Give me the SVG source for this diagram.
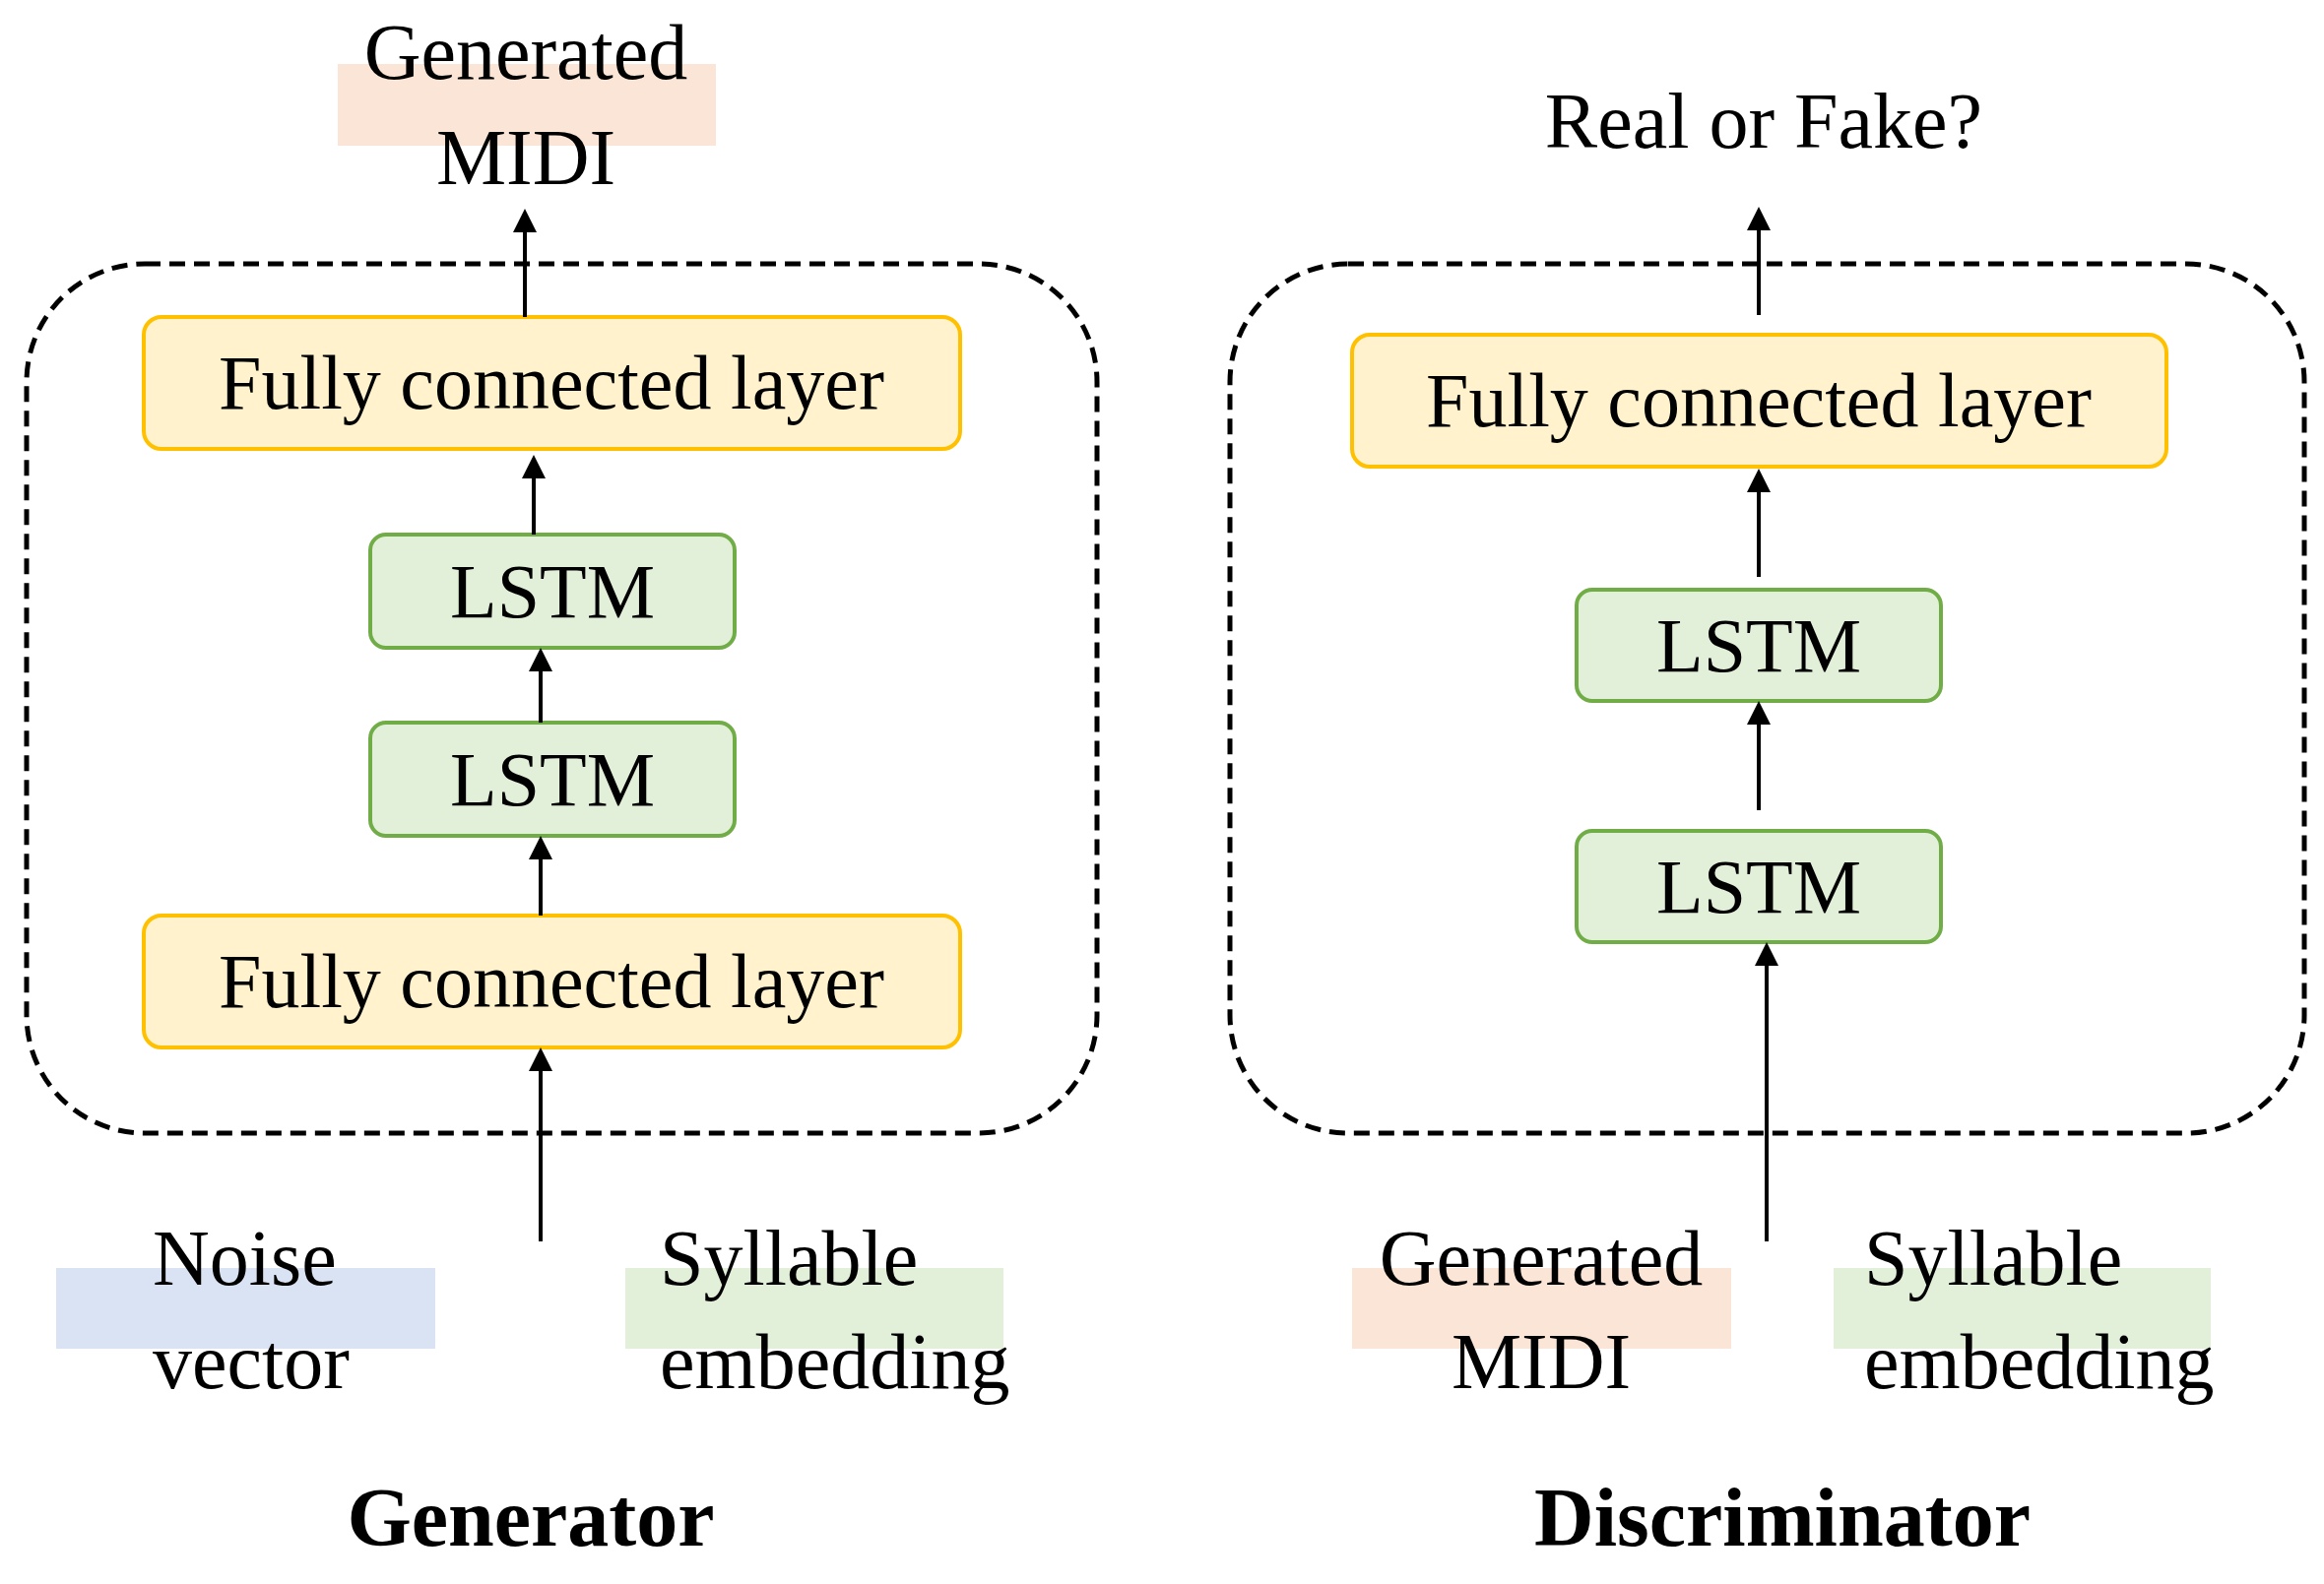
<svg xmlns="http://www.w3.org/2000/svg" width="2360" height="1609" viewBox="0 0 2360 1609">
<style>
text{font-family:"Liberation Serif","Times New Roman",serif;fill:#000}
.fc{fill:#fff2cc;stroke:#ffc000;stroke-width:4}
.ls{fill:#e2f0d9;stroke:#70ad47;stroke-width:4}
.dash{fill:none;stroke:#000;stroke-width:5;stroke-dasharray:16 9}
.ar{stroke:#000;stroke-width:4;fill:none;marker-end:url(#ah)}
.t{font-size:78px;text-anchor:middle}
.l{font-size:80px}
</style>
<defs><marker id="ah" markerWidth="6" markerHeight="6" refX="5" refY="3" orient="auto"><path d="M0,0L6,3L0,6z" fill="#000"/></marker></defs>
<rect fill="#fff" width="2360" height="1609"/>
<g id="genbox"><rect class="dash" x="27" y="268" width="1087" height="883" rx="120"/></g>
<g id="discbox"><rect class="dash" x="1249" y="268" width="1091" height="883" rx="120"/></g>
<g id="gfc2"><rect class="fc" x="146" y="322" width="829" height="134" rx="18"/><text class="t" x="560" y="415">Fully connected layer</text></g>
<g id="glstm1"><rect class="ls" x="376" y="543" width="370" height="115" rx="16"/><text class="t" x="561" y="627">LSTM</text></g>
<g id="glstm2"><rect class="ls" x="376" y="734" width="370" height="115" rx="16"/><text class="t" x="561" y="818">LSTM</text></g>
<g id="gfc1"><rect class="fc" x="146" y="930" width="829" height="134" rx="18"/><text class="t" x="560" y="1023">Fully connected layer</text></g>
<g id="dfc"><rect class="fc" x="1373" y="340" width="827" height="134" rx="18"/><text class="t" x="1786" y="433">Fully connected layer</text></g>
<g id="dlstm1"><rect class="ls" x="1601" y="599" width="370" height="113" rx="16"/><text class="t" x="1786" y="682">LSTM</text></g>
<g id="dlstm2"><rect class="ls" x="1601" y="844" width="370" height="113" rx="16"/><text class="t" x="1786" y="927">LSTM</text></g>
<g id="gout"><rect fill="#fbe5d6" x="343" y="65" width="384" height="83"/><text class="l" x="534" y="80" text-anchor="middle">Generated</text><text class="l" x="534" y="187" text-anchor="middle">MIDI</text></g>
<g id="dout"><text class="l" x="1791" y="150" text-anchor="middle">Real or Fake?</text></g>
<g id="noise"><rect fill="#dae3f3" x="57" y="1288" width="385" height="82"/><text class="l" x="155" y="1305">Noise</text><text class="l" x="155" y="1410">vector</text></g>
<g id="gsyl"><rect fill="#e2f0d9" x="635" y="1288" width="384" height="82"/><text class="l" x="670" y="1305">Syllable</text><text class="l" x="670" y="1410">embedding</text></g>
<g id="dmidi"><rect fill="#fbe5d6" x="1373" y="1288" width="385" height="82"/><text class="l" x="1565" y="1305" text-anchor="middle">Generated</text><text class="l" x="1565" y="1410" text-anchor="middle">MIDI</text></g>
<g id="dsyl"><rect fill="#e2f0d9" x="1862" y="1288" width="383" height="82"/><text class="l" x="1893" y="1305">Syllable</text><text class="l" x="1893" y="1410">embedding</text></g>
<g id="labels"><text x="539" y="1570" font-size="84" font-weight="bold" text-anchor="middle">Generator</text><text x="1810" y="1570" font-size="84" font-weight="bold" text-anchor="middle">Discriminator</text></g>
<g id="connectors">
<line class="ar" x1="533" y1="322" x2="533" y2="216"/>
<line class="ar" x1="542" y1="543" x2="542" y2="466"/>
<line class="ar" x1="549" y1="734" x2="549" y2="662"/>
<line class="ar" x1="549" y1="930" x2="549" y2="853"/>
<line class="ar" x1="549" y1="1261" x2="549" y2="1068"/>
<line class="ar" x1="1786" y1="320" x2="1786" y2="214"/>
<line class="ar" x1="1786" y1="586" x2="1786" y2="480"/>
<line class="ar" x1="1786" y1="823" x2="1786" y2="716"/>
<line class="ar" x1="1794" y1="1261" x2="1794" y2="961"/>
</g>
</svg>
